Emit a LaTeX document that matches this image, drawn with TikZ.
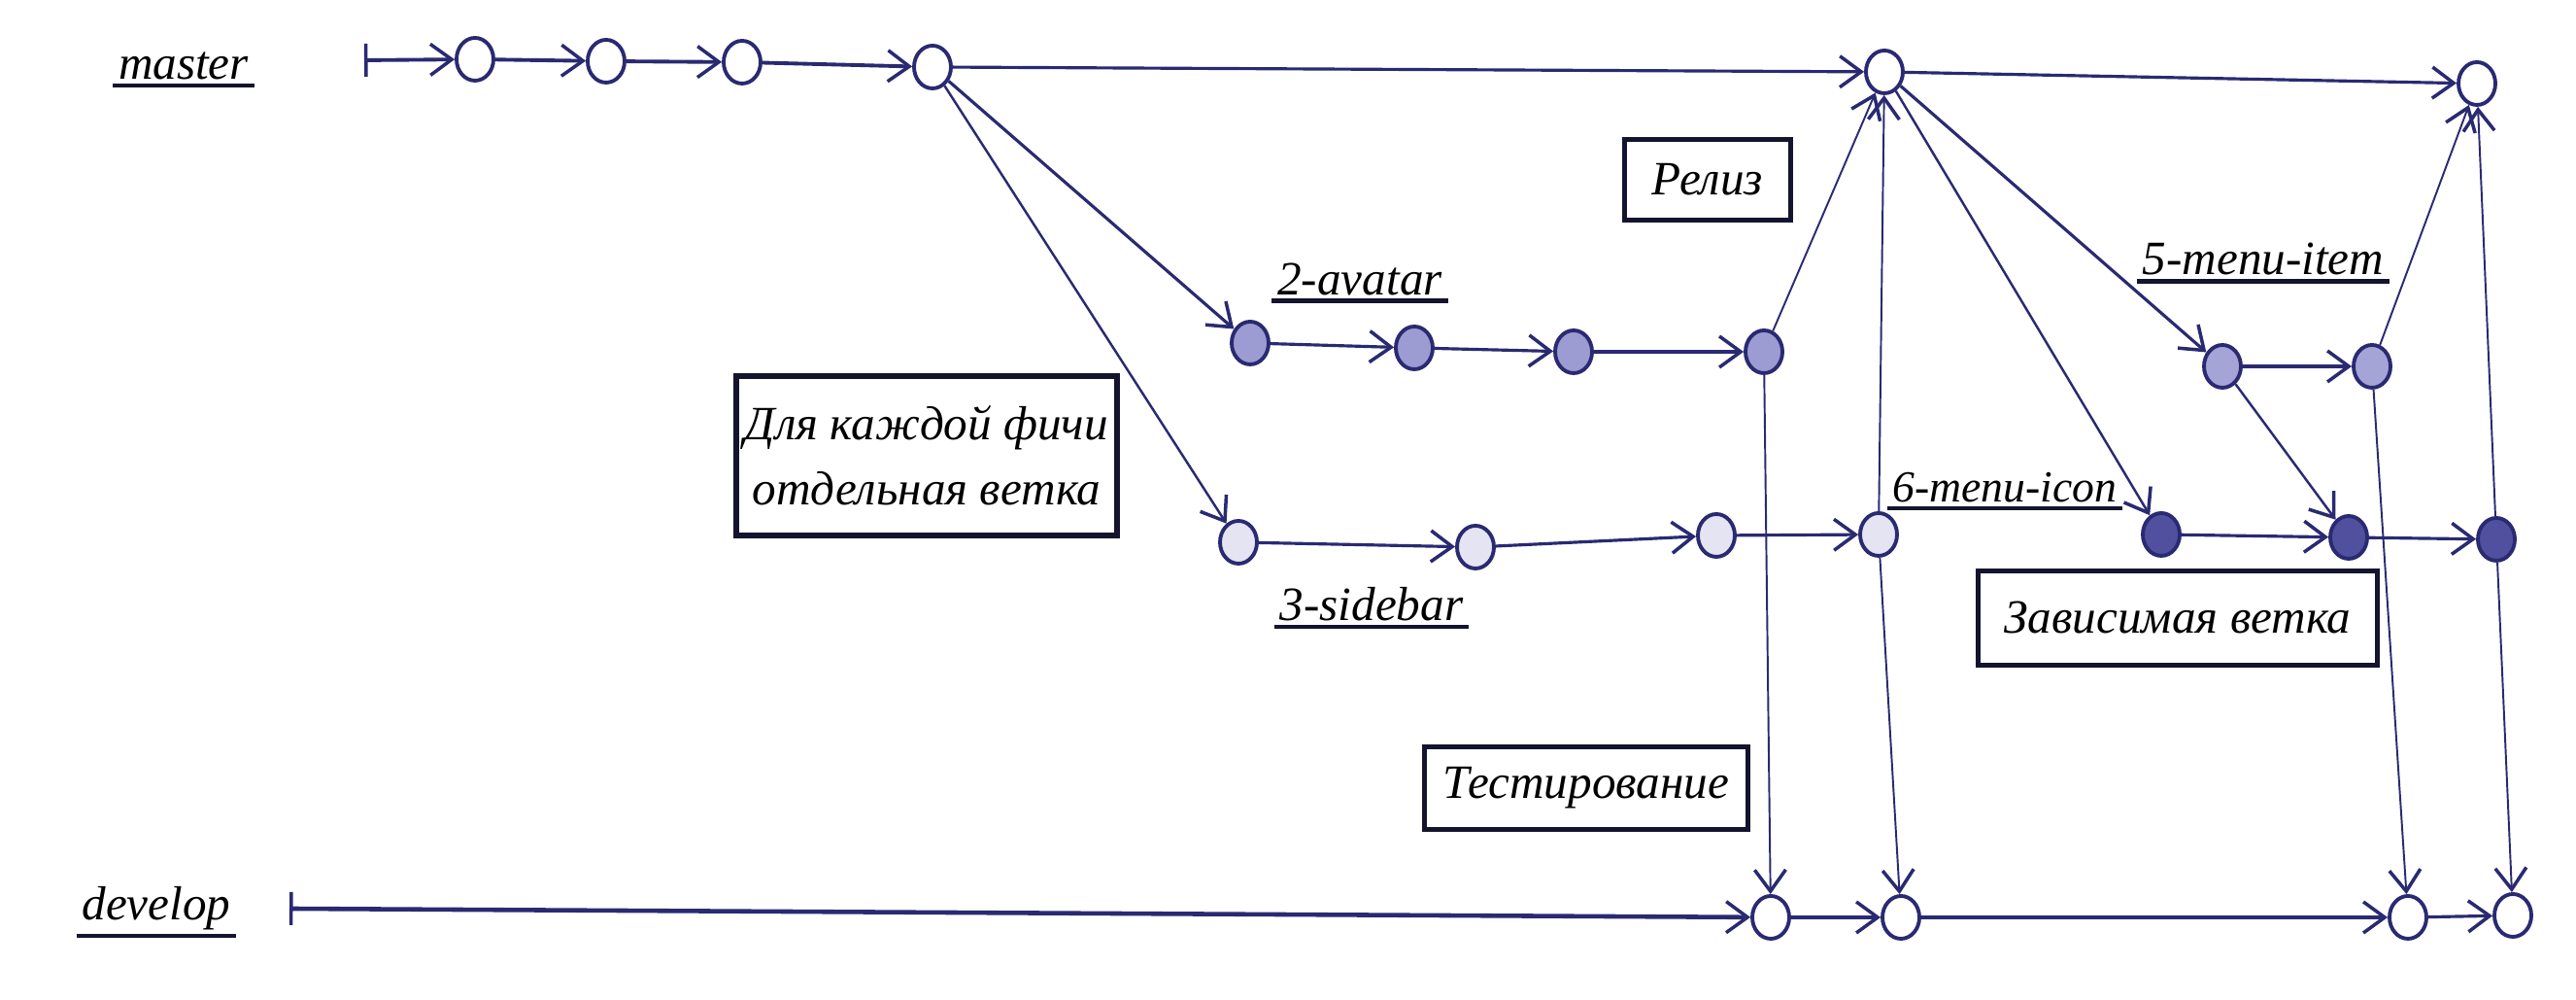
\documentclass[tikz,border=0pt]{standalone}
\usepackage{fontspec}
\setmainfont{Liberation Serif}
\usepackage{tikz}
\usetikzlibrary{shapes.geometric,arrows.meta,positioning}

\definecolor{ink}{HTML}{2A2A72}
\definecolor{boxink}{HTML}{14142E}
\definecolor{avatarfill}{HTML}{9C9CD2}
\definecolor{sidebarfill}{HTML}{E4E4F2}
\definecolor{itemfill}{HTML}{A4A4D6}
\definecolor{iconfill}{HTML}{50509E}

\tikzset{
  commit/.style={ellipse, draw=ink, line width=1.1pt, fill=white, minimum width=0.38cm, minimum height=0.44cm, inner sep=0pt},
  flow/.style={draw=ink, line width=0.9pt, -{Straight Barb[length=2.2mm,width=3.2mm,line width=1pt]}},
  thin flow/.style={flow, line width=0.55pt},
  start flow/.style={flow, {Bar[width=3.4mm,line width=1pt]}-{Straight Barb[length=2.2mm,width=3.2mm,line width=1pt]}},
  branch/.style={font=\fontsize{14}{17}\selectfont\itshape, inner sep=1.5pt,
    append after command={(\tikzlastnode.south west) edge[draw=boxink, line width=1.2pt, -] (\tikzlastnode.south east)}},
  note/.style={draw=boxink, line width=1.5pt, font=\fontsize{14}{19}\selectfont\itshape, align=center, inner sep=2pt},
}

\begin{document}
\begin{tikzpicture}
  \useasboundingbox (0,0) rectangle (26.52,10.29);

  % Master
  \node[branch] (master) at (1.89,9.61) {master};
  \coordinate (mstart) at (3.75,9.67);
  \node[commit] (c1) at (4.89,9.68) {};
  \node[commit] (c2) at (6.24,9.66) {};
  \node[commit] (c3) at (7.64,9.65) {};
  \node[commit] (c4) at (9.60,9.60) {};
  \node[commit] (c5) at (19.40,9.55) {};
  \node[commit] (c6) at (25.50,9.43) {};
  \draw[start flow, line width=1.1pt] (mstart) -- (c1);
  \draw[flow, line width=1.1pt] (c1) -- (c2);
  \draw[flow, line width=1.1pt] (c2) -- (c3);
  \draw[flow, line width=1.1pt] (c3) -- (c4);
  \draw[flow] (c4) -- (c5);
  \draw[flow] (c5) -- (c6);

  % Feature 2-avatar
  \node[branch] (avatar) at (14.00,7.42) {2-avatar};
  \node[commit, fill=avatarfill] (a1) at (12.87,6.76) {};
  \node[commit, fill=avatarfill] (a2) at (14.56,6.71) {};
  \node[commit, fill=avatarfill] (a3) at (16.20,6.67) {};
  \node[commit, fill=avatarfill] (a4) at (18.16,6.67) {};
  \draw[flow] (c4) -- (a1);
  \draw[flow] (a1) -- (a2);
  \draw[flow] (a2) -- (a3);
  \draw[flow] (a3) -- (a4);

  % Feature 3-sidebar
  \node[branch] (sidebar) at (14.12,4.07) {3-sidebar};
  \node[commit, fill=sidebarfill] (s1) at (12.75,4.71) {};
  \node[commit, fill=sidebarfill] (s2) at (15.19,4.66) {};
  \node[commit, fill=sidebarfill] (s3) at (17.67,4.78) {};
  \node[commit, fill=sidebarfill] (s4) at (19.34,4.79) {};
  \draw[thin flow, line width=0.7pt] (c4) -- (s1);
  \draw[flow] (s1) -- (s2);
  \draw[flow] (s2) -- (s3);
  \draw[flow] (s3) -- (s4);

  % Feature 5-menu-item
  \node[branch] (menuitem) at (23.30,7.62) {5-menu-item};
  \node[commit, fill=itemfill] (mi1) at (22.88,6.52) {};
  \node[commit, fill=itemfill] (mi2) at (24.42,6.52) {};
  \draw[flow] (c5) -- (mi1);
  \draw[flow] (mi1) -- (mi2);

  % Feature 6-menu-icon
  \node[branch, font=\fontsize{13}{16}\selectfont\itshape] (menuicon) at (20.64,5.27) {6-menu-icon};
  \node[commit, fill=iconfill] (ic1) at (22.25,4.79) {};
  \node[commit, fill=iconfill] (ic2) at (24.18,4.76) {};
  \node[commit, fill=iconfill] (ic3) at (25.70,4.74) {};
  \draw[thin flow, line width=0.7pt] (c5) -- (ic1);
  \draw[flow] (ic1) -- (ic2);
  \draw[thin flow, line width=0.7pt] (mi1) -- (ic2);
  \draw[flow] (ic2) -- (ic3);

  % Develop
  \node[branch] (develop) at (1.61,0.94) {develop};
  \coordinate (dstart) at (2.98,0.94);
  \node[commit] (d1) at (18.23,0.85) {};
  \node[commit] (d2) at (19.57,0.85) {};
  \node[commit] (d3) at (24.79,0.85) {};
  \node[commit] (d4) at (25.87,0.87) {};
  \draw[start flow, line width=1.3pt] (dstart) -- (d1);
  \draw[flow] (d1) -- (d2);
  \draw[flow] (d2) -- (d3);
  \draw[flow] (d3) -- (d4);

  % Release and testing
  \draw[thin flow] (a4) -- (c5);
  \draw[thin flow] (a4) -- (d1);
  \draw[thin flow] (s4) -- (c5);
  \draw[thin flow] (s4) -- (d2);
  \draw[thin flow] (mi2) -- (c6);
  \draw[thin flow] (mi2) -- (d3);
  \draw[thin flow] (ic3) -- (c6);
  \draw[thin flow] (ic3) -- (d4);

  % Notes
  \node[note, minimum width=1.71cm, minimum height=0.83cm] (release) at (17.58,8.44) {Релиз};
  \node[note, minimum width=3.92cm, minimum height=1.64cm] (perfeature) at (9.54,5.60) {Для каждой фичи\\отдельная ветка};
  \node[note, minimum width=4.11cm, minimum height=0.97cm] (dependent) at (22.42,3.93) {Зависимая ветка};
  \node[note, minimum width=3.33cm, minimum height=0.85cm] (testing) at (16.33,2.18) {Тестирование};
\end{tikzpicture}
\end{document}
